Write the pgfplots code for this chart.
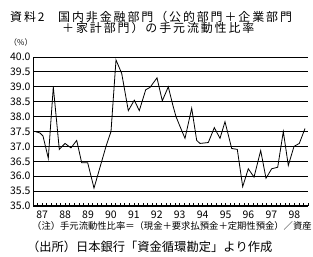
\documentclass[border=0pt]{standalone}
\usepackage{pgfplots}
\pgfplotsset{compat=1.18}
\usepackage{fontspec}
\setmainfont[Kerning=Off]{Noto Sans CJK JP}
\newfontfamily\titlefont[LetterSpace=16,Kerning=Off]{Noto Sans CJK JP}
\begin{document}
\begin{tikzpicture}[x=1bp,y=1bp]
\path[use as bounding box] (0,0) rectangle (313,257);
\begin{axis}[
  at={(33bp,51bp)}, anchor=south west,
  scale only axis, width=275bp, height=149bp,
  xmin=0, xmax=275, ymin=35, ymax=40,
  axis x line=bottom, axis y line=left,
  axis line style={-, line width=0.9bp},
  ytick={35,35.5,36,36.5,37,37.5,38,38.5,39,39.5,40},
  yticklabel style={/pgf/number format/fixed, /pgf/number format/fixed zerofill, /pgf/number format/precision=1, xshift=1bp},
  ymajorgrids, grid style={black, line width=1bp},
  xtick={9.2,32.12,55.04,77.96,100.88,123.8,146.72,169.64,192.56,215.48,238.4,261.32},
  xticklabels={87,88,89,90,91,92,93,94,95,96,97,98},
  minor xtick={4.5833,9.1667,...,275},
  major tick length=0pt, minor tick length=3bp,
  tick align=inside,
  minor tick style={black, line width=0.6bp},
  tick label style={font=\fontsize{10.5}{10.5}\selectfont},
  /pgf/number format/assume math mode=true,
  xticklabel style={yshift=-1bp},
  clip=false,
]
\addplot[black, line width=0.8bp] coordinates {
(2,37.5)(7,37.45)(10,37.35)(15.3,36.6)(20.3,39.0)(26.3,36.9)(32,37.1)(38,36.95)(43.7,37.2)(48.7,36.45)
(54.7,36.45)(61,35.6)(67,36.3)(73,37.0)(78,37.5)(83,39.9)(88.7,39.45)(95.3,38.2)(101.3,38.55)(106.3,38.2)
(112.7,38.9)(117,38.98)(124,39.3)(129.3,38.53)(135.3,39.0)(139.7,38.4)(143,38.0)(147,37.67)(152,37.27)(158.7,38.28)
(163.7,37.2)(167,37.1)(175.3,37.13)(181.3,37.63)(187,37.27)(192,37.83)(198.7,36.93)(204.3,36.9)(209.7,35.65)(215.3,36.25)
(221,35.97)(227.7,36.86)(233,35.93)(238.7,36.25)(244.7,36.3)(250.3,37.5)(255.3,36.36)(261,37.0)(266.3,37.1)(272,37.6)
};
\end{axis}
\node[anchor=west, inner sep=0, font=\titlefont\fontsize{12}{12}\selectfont] at (10,240.5) {資料2};
\node[anchor=west, inner sep=0, font=\titlefont\fontsize{12}{12}\selectfont] at (58,240.5) {国内非金融部門（公的部門＋企業部門};
\node[anchor=west, inner sep=0, font=\titlefont\fontsize{12}{12}\selectfont] at (62,229) {＋家計部門）の手元流動性比率};
\node[anchor=west, inner sep=0, font=\fontsize{8}{8}\selectfont] at (9,215) {（\%）};
\node[anchor=west, inner sep=0, font=\fontsize{9.35}{9.35}\selectfont] at (32,31) {（注）手元流動性比率＝（現金＋要求払預金＋定期性預金）／資産};
\node[anchor=west, inner sep=0, font=\fontsize{12.3}{12.3}\selectfont] at (27,10) {（出所）日本銀行「資金循環勘定」より作成};
\end{tikzpicture}
\end{document}
